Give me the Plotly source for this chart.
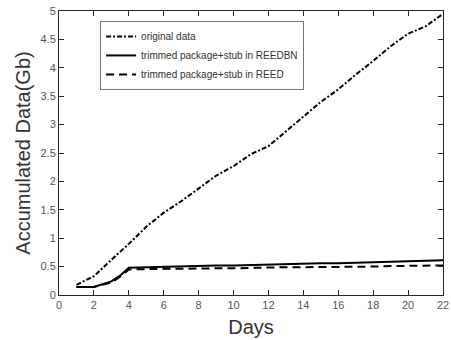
import plotly.graph_objects as go

days = list(range(1, 23))
original = [0.18, 0.33, 0.62, 0.90, 1.20, 1.45, 1.65, 1.87, 2.10, 2.27, 2.48, 2.62,
            2.88, 3.15, 3.40, 3.62, 3.88, 4.12, 4.38, 4.60, 4.73, 4.95]

days_trim = [1, 2, 3, 3.5, 4] + list(range(5, 23))
reedbn = [0.14, 0.14, 0.24, 0.34, 0.48, 0.49, 0.50, 0.50, 0.51, 0.52, 0.52, 0.53,
          0.54, 0.54, 0.55, 0.56, 0.56, 0.57, 0.58, 0.58, 0.59, 0.60, 0.61]
reed = [0.14, 0.14, 0.22, 0.32, 0.45, 0.46, 0.46, 0.46, 0.47, 0.47, 0.47, 0.48,
        0.48, 0.49, 0.49, 0.49, 0.50, 0.50, 0.50, 0.51, 0.51, 0.52, 0.52]

names = ["original data", "trimmed package+stub in REEDBN", "trimmed package+stub in REED"]

fig = go.Figure()
fig.add_trace(go.Scatter(x=days, y=original, mode="lines", name=names[0],
                         line=dict(color="black", width=2, dash="5px,2px,2px,2px")))
fig.add_trace(go.Scatter(x=days_trim, y=reedbn, mode="lines", name=names[1],
                         line=dict(color="black", width=2)))
fig.add_trace(go.Scatter(x=days_trim, y=reed, mode="lines", name=names[2],
                         line=dict(color="black", width=2, dash="8px,5px")))

axis_common = dict(showline=True, linecolor="#262626", linewidth=1, mirror="ticks",
                   ticks="inside", ticklen=5, tickcolor="#262626", showgrid=False,
                   zeroline=False, tickfont=dict(family="Liberation Sans, Arial", size=11, color="#555"))

fig.update_xaxes(range=[0, 22], dtick=2, tick0=0,
                 title=dict(text="Days", font=dict(family="Liberation Sans, Arial", size=20, color="#333"), standoff=9),
                 **axis_common)
fig.update_yaxes(range=[0, 5], dtick=0.5, tick0=0,
                 title=dict(text="Accumulated Data(Gb)", font=dict(family="Liberation Sans, Arial", size=20, color="#333"), standoff=4),
                 **axis_common)

fig.update_layout(
    width=451, height=340,
    margin=dict(l=59, r=8, t=11, b=45, autoexpand=False),
    paper_bgcolor="white", plot_bgcolor="white",
    showlegend=True,
    legend=dict(x=0.107, y=0.965, xanchor="left", yanchor="top",
                bordercolor="#777", borderwidth=1, bgcolor="white",
                font=dict(family="Liberation Sans, Arial", size=10, color="#333"),
                tracegroupgap=0, itemwidth=30),
)

fig.write_html("out.html")
